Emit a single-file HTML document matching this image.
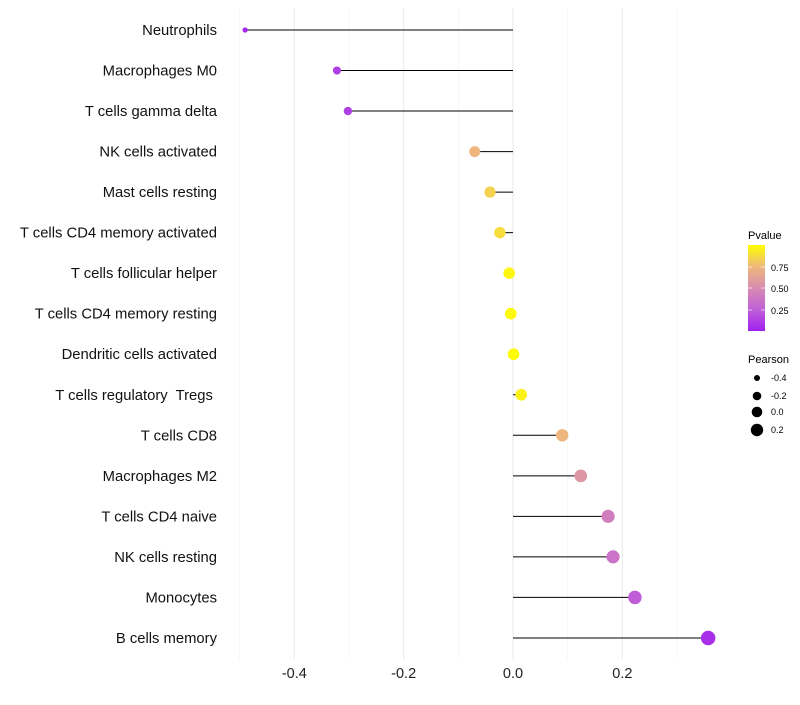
<!DOCTYPE html>
<html><head><meta charset="utf-8"><style>
body{margin:0;background:#fff;font-family:"Liberation Sans",sans-serif}
</style></head><body>
<svg id="c" width="800" height="700" xmlns="http://www.w3.org/2000/svg">
<defs><linearGradient id="pg" x1="0" y1="1" x2="0" y2="0">
<stop offset="0" stop-color="#a020f0"/><stop offset="0.25" stop-color="#c060d8"/><stop offset="0.5" stop-color="#d88cb0"/><stop offset="0.75" stop-color="#eeb87c"/><stop offset="1" stop-color="#ffff00"/></linearGradient></defs>
<g id="grid"></g><g id="marks"></g><g id="labels"></g>
<g>
<text x="748" y="239" font-size="11" fill="#000">Pvalue</text>
<rect x="748" y="245" width="17" height="86" fill="url(#pg)"/>
<text x="771" y="271" font-size="9">0.75</text><text x="771" y="292" font-size="9">0.50</text><text x="771" y="314" font-size="9">0.25</text>
<line x1="748" x2="752" y1="267" y2="267" stroke="#fff" opacity=".6"/><line x1="761" x2="765" y1="267" y2="267" stroke="#fff" opacity=".6"/>
<line x1="748" x2="752" y1="288" y2="288" stroke="#fff" opacity=".6"/><line x1="761" x2="765" y1="288" y2="288" stroke="#fff" opacity=".6"/>
<line x1="748" x2="752" y1="310" y2="310" stroke="#fff" opacity=".6"/><line x1="761" x2="765" y1="310" y2="310" stroke="#fff" opacity=".6"/>
</g>
<g>
<text x="748" y="363" font-size="11">Pearson</text>
<circle cx="757" cy="378" r="3" fill="#000"/><text x="771" y="381" font-size="9">-0.4</text>
<circle cx="757" cy="396" r="4.3" fill="#000"/><text x="771" y="399" font-size="9">-0.2</text>
<circle cx="757" cy="412" r="5.3" fill="#000"/><text x="771" y="415" font-size="9">0.0</text>
<circle cx="757" cy="430" r="6.2" fill="#000"/><text x="771" y="433" font-size="9">0.2</text>
</g>
</svg>
<script>
const categories=["Neutrophils","Macrophages M0","T cells gamma delta","NK cells activated","Mast cells resting","T cells CD4 memory activated","T cells follicular helper","T cells CD4 memory resting","Dendritic cells activated","T cells regulatory  Tregs ","T cells CD8","Macrophages M2","T cells CD4 naive","NK cells resting","Monocytes","B cells memory"];
const pearson=[-0.490,-0.322,-0.302,-0.070,-0.042,-0.024,-0.007,-0.004,0.001,0.015,0.090,0.124,0.174,0.183,0.223,0.357];
const pvalues=[0.03,0.12,0.12,0.74,0.84,0.88,0.97,0.98,0.99,0.95,0.74,0.56,0.42,0.36,0.24,0.06];
const ticks=[-0.4,-0.2,0.0,0.2];
const minorTicks=[-0.5,-0.3,-0.1,0.1,0.3];
const NS="http://www.w3.org/2000/svg";
const x=v=>513+v*546.7;
const y=i=>30+i*40.53;
const rad=v=>Math.sqrt(Math.max(1,28.3+48.3*v))+0.5;
const stops=[[0,[160,32,240]],[0.25,[192,96,216]],[0.5,[216,140,176]],[0.75,[238,184,124]],[1,[255,255,0]]];
function col(p){for(let k=1;k<stops.length;k++){if(p<=stops[k][0]){const [a,ca]=stops[k-1],[b,cb]=stops[k];const t=(p-a)/(b-a);return "rgb("+ca.map((c,j)=>Math.round(c+(cb[j]-c)*t)).join(",")+")";}}return "rgb(255,255,0)";}
function mk(t,a,p){const e=document.createElementNS(NS,t);for(const k in a)e.setAttribute(k,a[k]);p.appendChild(e);return e;}
const g=document.getElementById('grid'),m=document.getElementById('marks'),l=document.getElementById('labels');
minorTicks.forEach(v=>{const e=mk('line',{x1:x(v),x2:x(v),y1:8,y2:660,stroke:'#f2f2f2','stroke-width':0.6},g);

});
ticks.forEach(v=>{const e=mk('line',{x1:x(v),x2:x(v),y1:8,y2:660,stroke:'#ebebeb','stroke-width':1.1},g);


const t=mk('text',{x:x(v),y:678,'font-size':14.5,'text-anchor':'middle',fill:'#222'},l);t.textContent=v.toFixed(1);

});
categories.forEach((c,i)=>{
const s=mk('line',{x1:x(0),x2:x(pearson[i]),y1:y(i),y2:y(i),stroke:'#000','stroke-width':1},m);


const d=mk('circle',{cx:x(pearson[i]),cy:y(i),r:rad(pearson[i]),fill:col(pvalues[i])},m);


const t=mk('text',{x:217,y:y(i)+5,'font-size':14.8,'text-anchor':'end',fill:'#111','style':'white-space:pre'},l);t.textContent=c;

});
</script>
</body></html>
